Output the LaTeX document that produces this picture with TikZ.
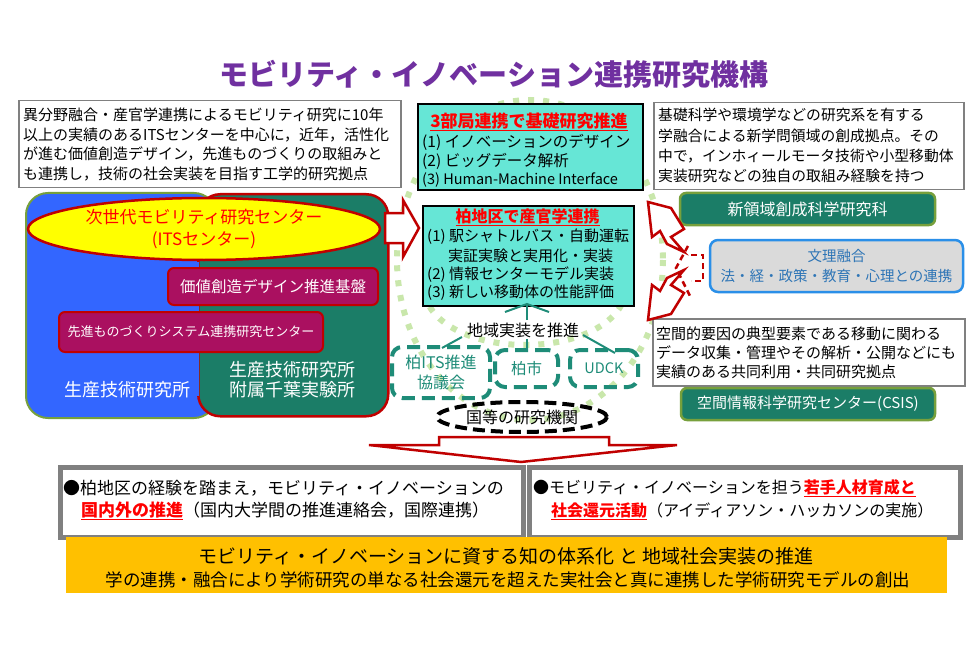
\documentclass[tikz,border=0pt]{standalone}
\usepackage{fontspec}
\setmainfont{Noto Sans CJK JP}
\usetikzlibrary{shapes.geometric}
\definecolor{ttl}{HTML}{7030A0}
\definecolor{cyanbox}{HTML}{66E6D6}
\definecolor{tealdk}{HTML}{1B7D67}
\definecolor{blueblk}{HTML}{3366FF}
\definecolor{grnbd}{HTML}{77A03C}
\definecolor{redbd}{HTML}{C00000}
\definecolor{redtx}{HTML}{FF0000}
\definecolor{magbox}{HTML}{AA1060}
\definecolor{ylw}{HTML}{FFFF00}
\definecolor{orng}{HTML}{FFC000}
\definecolor{grybd}{HTML}{808080}
\definecolor{tealdash}{HTML}{1E8C78}
\definecolor{bunribd}{HTML}{2A8FE8}
\definecolor{bunritx}{HTML}{2E75B6}
\definecolor{bunrifill}{HTML}{DADADA}
\definecolor{dotgrn}{HTML}{C9E7AB}
\newcommand{\jfs}[1]{\fontsize{#1}{#1}\selectfont}
\newcommand{\jfsl}[2]{\fontsize{#1}{#2}\selectfont}
\newcommand{\redul}[1]{\textcolor{redtx}{\underline{\textbf{#1}}}}
\tikzset{
 txtbox/.style={draw=grybd, line width=1.5, fill=white, anchor=north west, inner sep=0},
 cybox/.style={draw=black, line width=1.8, fill=cyanbox, anchor=north west, inner sep=0},
 ln/.style={anchor=west, inner sep=0},
 grbox/.style={draw=grnbd, line width=2.5, fill=tealdk, rounded corners=6, text=white, inner sep=0},
 magbx/.style={draw=redbd, line width=2, fill=magbox, rounded corners=6, text=white, inner sep=0},
 tealdsh/.style={draw=tealdash, line width=4, dash pattern=on 13pt off 7pt, rounded corners=10, text=tealdash, inner sep=0, align=center},
 dotline/.style={draw=dotgrn, line width=6, dash pattern=on 6pt off 9pt},
 tealln/.style={draw=tealdash, line width=2},
 hollowred/.style={draw=redbd, line width=2.5, fill=white, line join=miter},
 botbox/.style={draw=grybd, line width=5, fill=white, anchor=north west, inner sep=0},
}
\begin{document}
\begin{tikzpicture}[x=1pt,y=-1pt]
\useasboundingbox[fill=white] (0,0) rectangle (975,650);
% decorative dotted rings
\draw[dotline] (530,260) ellipse [x radius=133, y radius=160];
\draw[dotline] (525,290) ellipse [x radius=100, y radius=55];
% title
\node[font=\jfs{29}\bfseries, text=ttl, inner sep=0] (title) at (494,74) {モビリティ・イノベーション連携研究機構};
% left text box
\node[txtbox, minimum width=382, minimum height=87] (lbox) at (18,100) {};
\node[ln, font=\jfs{15}] (l1) at (23,115) {異分野融合・産官学連携によるモビリティ研究に10年};
\node[ln, font=\jfs{15}] (l2) at (23,134.5) {以上の実績のあるITSセンターを中心に，近年，活性化};
\node[ln, font=\jfs{15}] (l3) at (23,154) {が進む価値創造デザイン，先進ものづくりの取組みと};
\node[ln, font=\jfs{15}] (l4) at (23,173.5) {も連携し，技術の社会実装を目指す工学的研究拠点};
% left blocks
\node[draw=grnbd, fill=blueblk, line width=2, rounded corners=22, minimum width=190, minimum height=225, anchor=north west, inner sep=0] (iis) at (25,192) {};
\node[draw=redbd, fill=tealdk, line width=2.5, rounded corners=22, minimum width=190, minimum height=222, anchor=north west, inner sep=0] (chibablk) at (197,193) {};
\fill[blueblk] (190,262) rectangle (198.6,396);
\node[ellipse, draw=redbd, fill=ylw, line width=2.5, minimum width=352, minimum height=62, inner sep=0, align=center, text=redtx, font=\jfsl{17}{22}] (its) at (204,229) {次世代モビリティ研究センター\\(ITSセンター)};
\node[magbx, minimum width=210, minimum height=37, font=\jfs{15.5}] (kachi) at (273,286.5) {価値創造デザイン推進基盤};
\node[magbx, minimum width=264, minimum height=40, font=\jfs{13}] (mono) at (191,332) {先進ものづくりシステム連携研究センター};
\node[text=white, font=\jfs{18}, inner sep=0] (iislbl) at (127,390) {生産技術研究所};
\node[text=white, font=\jfsl{18}{20}, align=center, inner sep=0] (chibalbl) at (292,380) {生産技術研究所\\附属千葉実験所};
% arrow to center
\draw[hollowred] (385,213) -- (403,213) -- (403,200) -- (419,228) -- (403,257) -- (403,243) -- (385,243) -- cycle;
% center top box
\node[cybox, minimum width=225, minimum height=86] (kiso) at (417,103) {};
\node[font=\jfs{17}, inner sep=0] (kisot) at (529,122) {\redul{3部局連携で基礎研究推進}};
\node[ln, font=\jfs{15.5}] (k1) at (422,142) {(1) イノベーションのデザイン};
\node[ln, font=\jfs{15.5}] (k2) at (422,161) {(2) ビッグデータ解析};
\node[ln, font=\jfs{14.5}] (k3) at (422,180) {(3) Human-Machine Interface};
% center middle box
\node[cybox, minimum width=211, minimum height=100] (kash) at (422,205) {};
\node[font=\jfs{16}, inner sep=0] (kasht) at (527.5,217) {\redul{柏地区で産官学連携}};
\node[ln, font=\jfs{15}] (m1) at (427,237) {(1) 駅シャトルバス・自動運転};
\node[ln, font=\jfs{15}] (m2) at (448,256) {実証実験と実用化・実装};
\node[ln, font=\jfs{15}] (m3) at (427,274.5) {(2) 情報センターモデル実装};
\node[ln, font=\jfs{15}] (m4) at (427,293) {(3) 新しい移動体の性能評価};
% regional
\node[font=\jfs{16}, inner sep=0] (chiiki) at (523,330) {地域実装を推進};
\coordinate (tent) at (527,304);
\coordinate (tentl) at (505,312);
\coordinate (tentr) at (549,312);
\coordinate (tentb) at (527,320);
\draw[tealln] (tentl) -- (tent) -- (tentr);
\draw[tealln] (tent) -- (tentb);
\node[tealdsh, minimum width=98, minimum height=51, font=\jfsl{16}{20}] (kits) at (441,372.5) {柏ITS推進\\協議会};
\node[tealdsh, minimum width=63, minimum height=37, font=\jfs{15.5}] (kcity) at (526.5,368.5) {柏市};
\node[tealdsh, minimum width=68, minimum height=37, font=\jfs{14.5}] (udck) at (604,368.5) {UDCK};
\coordinate (c1a) at (462,337);
\coordinate (c1b) at (442,348);
\coordinate (c2a) at (527,339);
\coordinate (c2b) at (527,349);
\coordinate (c3a) at (583,335);
\coordinate (c3b) at (615,353);
\draw[tealln] (c1a) -- (c1b);
\draw[tealln] (c2a) -- (c2b);
\draw[tealln] (c3a) -- (c3b);
\node[ellipse, draw=black, line width=4, dash pattern=on 12pt off 6pt, minimum width=170, minimum height=30, inner sep=0, font=\jfs{16}] (kuni) at (522,417) {国等の研究機関};
% right text box top
\node[txtbox, minimum width=310, minimum height=87] (rbox) at (653,102) {};
\node[ln, font=\jfs{14.8}] (r1) at (658,115) {基礎科学や環境学などの研究系を有する};
\node[ln, font=\jfs{14.8}] (r2) at (658,136) {学融合による新学問領域の創成拠点。その};
\node[ln, font=\jfs{14.8}] (r3) at (658,156) {中で，インホィールモータ技術や小型移動体};
\node[ln, font=\jfs{14.8}] (r4) at (658,176) {実装研究などの独自の取組み経験を持つ};
\node[grbox, minimum width=255, minimum height=32, font=\jfs{16}] (frontier) at (807.5,209) {新領域創成科学研究科};
\node[draw=bunribd, fill=bunrifill, line width=2.5, rounded corners=8, minimum width=253, minimum height=52, inner sep=0, align=center, text=bunritx, font=\jfsl{14.5}{20}] (bunri) at (836.5,266) {文理融合\\法・経・政策・教育・心理との連携};
\node[txtbox, minimum width=312, minimum height=67] (rbox2) at (652,318) {};
\node[ln, font=\jfs{15}] (s1) at (656,334) {空間的要因の典型要素である移動に関わる};
\node[ln, font=\jfs{15}] (s2) at (656,353) {データ収集・管理やその解析・公開などにも};
\node[ln, font=\jfs{15}] (s3) at (656,372) {実績のある共同利用・共同研究拠点};
\node[grbox, minimum width=254, minimum height=32, font=\jfs{15}] (csis) at (808,404) {空間情報科学研究センター(CSIS)};
% right arrows
\draw[hollowred] (648,202) -- (671,208) -- (684,229) -- (671,237) -- (684,252) -- (667,244) -- (660,231) -- (652,237) -- cycle;
\draw[hollowred] (648,320) -- (671,314) -- (684,293) -- (671,285) -- (684,270) -- (667,278) -- (660,291) -- (652,285) -- cycle;
\draw[redbd, line width=2.5, dash pattern=on 6pt off 4pt] (688,246) -- (676,268) -- (690,296);
\draw[redbd, line width=2.5, dash pattern=on 6pt off 4pt] (691,255) -- (703,255) -- (703,281) -- (691,281);
% big down arrow
\draw[hollowred] (439,437) -- (609,437) -- (609,445) -- (677,445) -- (521,462) -- (369,445) -- (439,445) -- cycle;
% bottom boxes
\node[botbox, minimum width=463, minimum height=70] (bl) at (58,465) {};
\node[ln, font=\jfs{17}] (bl1) at (63,488) {●柏地区の経験を踏まえ，モビリティ・イノベーションの};
\node[ln, font=\jfs{17}] (bl2) at (81,511) {\redul{国内外の推進}（国内大学間の推進連絡会，国際連携）};
\node[botbox, minimum width=431, minimum height=70] (br) at (527,465) {};
\node[ln, font=\jfs{16}] (br1) at (533,488) {●モビリティ・イノベーションを担う\redul{若手人材育成と}};
\node[ln, font=\jfs{16}] (br2) at (551,511) {\redul{社会還元活動}（アイディアソン・ハッカソンの実施）};
\node[fill=orng, minimum width=881, minimum height=56, inner sep=0] (goal) at (506.5,565) {};
\node[font=\jfs{19}, inner sep=0] (g1) at (506,556) {モビリティ・イノベーションに資する知の体系化 と 地域社会実装の推進};
\node[font=\jfs{17.5}, inner sep=0] (g2) at (508,580) {学の連携・融合により学術研究の単なる社会還元を超えた実社会と真に連携した学術研究モデルの創出};
\end{tikzpicture}
\end{document}
